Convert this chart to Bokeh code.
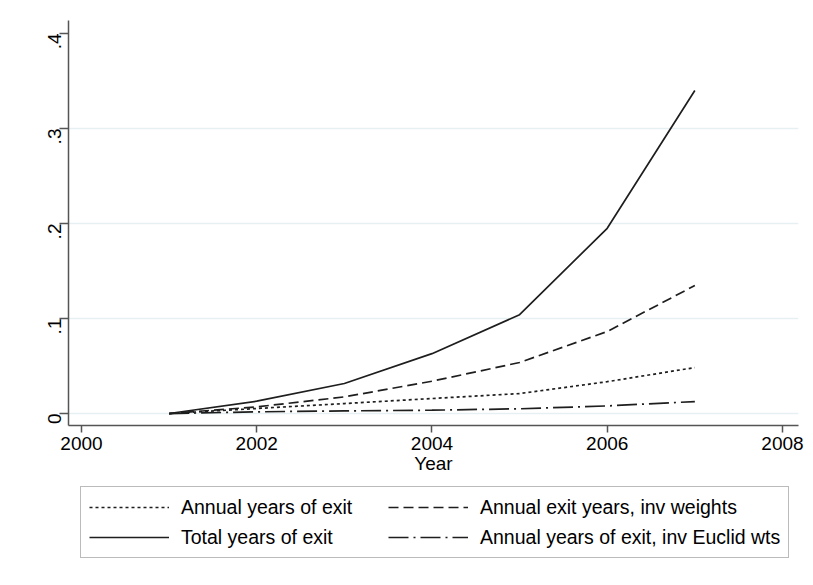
import math
from bokeh.plotting import figure
from bokeh.layouts import column
from bokeh.models import (FixedTicker, CustomJSTickFormatter, Legend, LegendItem,
                          Range1d)
from bokeh.embed import file_html
from bokeh.resources import INLINE

# ---- data ----
years = [2001, 2002, 2003, 2004, 2005, 2006, 2007]
annual_exit = [0.0, 0.0053, 0.0105, 0.0158, 0.021, 0.0335, 0.0484]
annual_exit_inv_weights = [0.0, 0.007, 0.0175, 0.034, 0.0537, 0.0863, 0.1347]
total_exit = [0.0, 0.013, 0.0316, 0.063, 0.104, 0.1950, 0.340]
annual_exit_inv_euclid = [0.0, 0.0018, 0.0028, 0.0035, 0.0050, 0.0080, 0.0126]

x_ticks = [2000, 2002, 2004, 2006, 2008]
y_ticks = [0, 0.1, 0.2, 0.3, 0.4]
grid_ticks = [0, 0.1, 0.2, 0.3]

series_labels = ["Annual years of exit", "Annual exit years, inv weights",
                 "Total years of exit", "Annual years of exit, inv Euclid wts"]
series_dash = ["3 3", "10 5", "solid", "20 5 2 5"]

FONT = "Liberation Sans"
LINE_COLOR = "#1e1e1e"
AXIS_COLOR = "#555555"

p = figure(width=805, frame_height=405, output_backend="svg",
           toolbar_location=None,
           x_range=Range1d(1999.852, 2008.183), y_range=Range1d(-0.0126, 0.4137),
           min_border_left=68, min_border_right=7, min_border_top=20,
           min_border_bottom=50)
p.outline_line_color = None
p.background_fill_color = "white"
p.border_fill_color = "white"

# grid
p.xgrid.grid_line_color = None
p.ygrid.ticker = FixedTicker(ticks=grid_ticks)
p.ygrid.grid_line_color = "#e6eff1"
p.ygrid.grid_line_width = 1.5

# axes
for ax in (p.xaxis[0], p.yaxis[0]):
    ax.axis_line_color = AXIS_COLOR
    ax.axis_line_width = 1.5
    ax.major_tick_line_color = AXIS_COLOR
    ax.major_tick_line_width = 1.5
    ax.major_tick_in = 0
    ax.minor_tick_line_color = None
    ax.major_label_text_font = FONT
    ax.major_label_text_font_size = "19px"
    ax.major_label_text_color = "black"

p.xaxis.ticker = FixedTicker(ticks=x_ticks)
p.xaxis.major_tick_out = 7
p.xaxis.major_label_standoff = 4
p.xaxis.axis_label = "Year"
p.xaxis.axis_label_text_font = FONT
p.xaxis.axis_label_text_font_size = "19px"
p.xaxis.axis_label_text_font_style = "normal"
p.xaxis.axis_label_text_color = "black"
p.xaxis.axis_label_standoff = 0

p.yaxis.ticker = FixedTicker(ticks=y_ticks)
p.yaxis.major_tick_out = 9
p.yaxis.major_label_standoff = 5
p.yaxis.major_label_orientation = math.pi / 2
p.yaxis.formatter = CustomJSTickFormatter(code="""
    if (Math.abs(tick) < 1e-9) { return "0"; }
    return tick.toFixed(1).replace(/^0/, "");
""")

# lines
series_values = [annual_exit, annual_exit_inv_weights, total_exit,
                 annual_exit_inv_euclid]
for vals, dash in zip(series_values, series_dash):
    p.line(years, vals, line_color=LINE_COLOR, line_width=1.7, line_dash=dash)

# ---- legend strip (separate figure below the plot; its key lines lie outside
#      its visible ranges, so only the legend shows) ----
p2 = figure(width=805, height=100, output_backend="svg", toolbar_location=None,
            x_axis_location=None, y_axis_location=None,
            x_range=Range1d(0, 1), y_range=Range1d(0, 1),
            min_border_left=68, min_border_right=7, min_border_top=0,
            min_border_bottom=0)
p2.outline_line_color = None
p2.xgrid.grid_line_color = None
p2.ygrid.grid_line_color = None
p2.border_fill_color = "white"
p2.background_fill_color = "white"

key_renderers = [p2.line(years, vals, line_color=LINE_COLOR, line_width=1.7,
                         line_dash=d)
                 for vals, d in zip(series_values, series_dash)]

# column-first fill: col 1 = items 1, 3 ; col 2 = items 2, 4
order = [0, 2, 1, 3]
legend = Legend(items=[LegendItem(label=series_labels[i], renderers=[key_renderers[i]])
                       for i in order],
                location=(12, 18), orientation="vertical", ncols=2)
legend.label_text_font = FONT
legend.label_text_font_size = "19.5px"
legend.label_text_color = "black"
legend.glyph_width = 80
legend.glyph_height = 24
legend.label_height = 24
legend.label_standoff = 12
legend.label_width = 201
legend.spacing = 6
legend.padding = 8
legend.margin = 0
legend.border_line_color = "#777777"
legend.border_line_width = 1.5
legend.background_fill_color = "white"
p2.add_layout(legend, "center")

layout = column(p, p2, spacing=0)
open("out.html", "w").write(file_html(layout, INLINE))
